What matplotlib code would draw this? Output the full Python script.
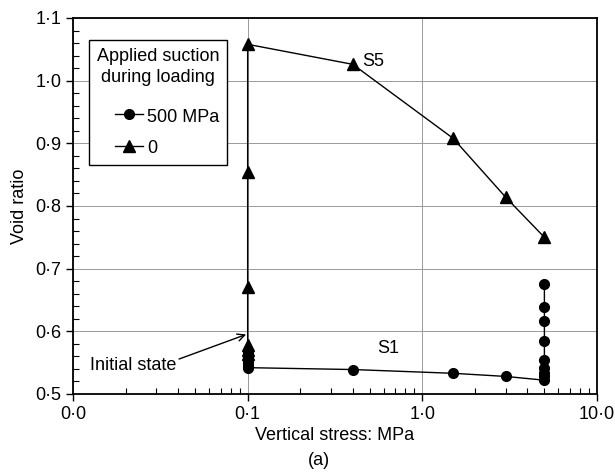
import numpy as np
import matplotlib.pyplot as plt
from matplotlib.ticker import FixedLocator, FixedFormatter, MultipleLocator, LogLocator, NullFormatter

plt.rcParams['font.family'] = ['Liberation Sans', 'DejaVu Sans']

# S1: suction 500 MPa during loading
s1_stress = [0.1, 0.1, 0.1, 0.1, 0.1, 0.1, 0.4, 1.5, 3.0, 5.0,
             5.0, 5.0, 5.0, 5.0, 5.0, 5.0, 5.0, 5.0]
s1_void = [0.565, 0.560, 0.555, 0.550, 0.545, 0.542, 0.539, 0.533, 0.528, 0.522,
           0.528, 0.534, 0.541, 0.555, 0.585, 0.616, 0.638, 0.675]

# S5: zero suction during loading
s5_stress = [0.1, 0.1, 0.1, 0.1, 0.1, 0.1, 0.4, 1.5, 3.0, 5.0]
s5_void = [0.563, 0.570, 0.578, 0.670, 0.855, 1.058, 1.026, 0.908, 0.814, 0.750]

xticks = [0.01, 0.1, 1.0, 10.0]
xtick_labels = ['0·0', '0·1', '1·0', '10·0']
yticks = [0.5, 0.6, 0.7, 0.8, 0.9, 1.0, 1.1]
ytick_labels = ['0·5', '0·6', '0·7', '0·8', '0·9', '1·0', '1·1']

fs = 13

fig = plt.figure(figsize=(6.15, 4.72), dpi=100)
ax = fig.add_axes([0.1187, 0.1653, 0.852, 0.7966])

ax.grid(True, which='major', color='#999999', linewidth=0.7)
ax.set_axisbelow(True)

ax.plot(s1_stress, s1_void, color='black', lw=1, marker='o', ms=7,
        label='500 MPa', clip_on=False, zorder=3)
ax.plot(s5_stress, s5_void, color='black', lw=1, marker='^', ms=8,
        label='0', clip_on=False, zorder=3)

ax.set_xscale('log')
ax.set_xlim(0.01, 10)
ax.set_ylim(0.5, 1.1)

ax.xaxis.set_major_locator(FixedLocator(xticks))
ax.xaxis.set_major_formatter(FixedFormatter(xtick_labels))
ax.xaxis.set_minor_locator(LogLocator(base=10, subs=np.arange(2, 10)))
ax.xaxis.set_minor_formatter(NullFormatter())
ax.yaxis.set_major_locator(FixedLocator(yticks))
ax.yaxis.set_major_formatter(FixedFormatter(ytick_labels))
ax.yaxis.set_minor_locator(MultipleLocator(0.02))

ax.tick_params(which='major', direction='out', length=5, width=1, labelsize=fs)
ax.tick_params(which='minor', direction='in', length=4, width=0.8)
ax.tick_params(top=False, right=False, which='both')
for sp in ax.spines.values():
    sp.set_linewidth(1.3)

ax.set_xlabel('Vertical stress: MPa', fontsize=fs, labelpad=3)
ax.set_ylabel('Void ratio', fontsize=fs, labelpad=5)
fig.text(0.5187, 0.025, '(a)', fontsize=fs, ha='center', va='center')

ax.text(0.45, 1.030, 'S5', fontsize=fs, va='center', ha='left')
ax.text(0.55, 0.573, 'S1', fontsize=fs, va='center', ha='left')
ax.annotate('Initial state', xy=(0.098, 0.595), xytext=(0.0125, 0.546),
            fontsize=fs, va='center', ha='left',
            arrowprops=dict(arrowstyle='->', color='black', lw=1,
                            shrinkA=0, shrinkB=0, relpos=(1.0, 0.8)))

leg = ax.legend(title='Applied suction\nduring loading', loc='upper left',
                bbox_to_anchor=(0.03, 0.942), borderaxespad=0, fontsize=fs,
                title_fontsize=fs, fancybox=False, framealpha=1,
                edgecolor='black', handlelength=1.6, handletextpad=0.2,
                borderpad=0.45, labelspacing=0.75, handleheight=1.0,
                alignment='right')
leg.get_frame().set_linewidth(1)
leg.get_title().set_multialignment('center')
leg.get_title().set_linespacing(1.35)
leg._legend_box.sep = 15

fig.savefig('out.png', dpi=100)
